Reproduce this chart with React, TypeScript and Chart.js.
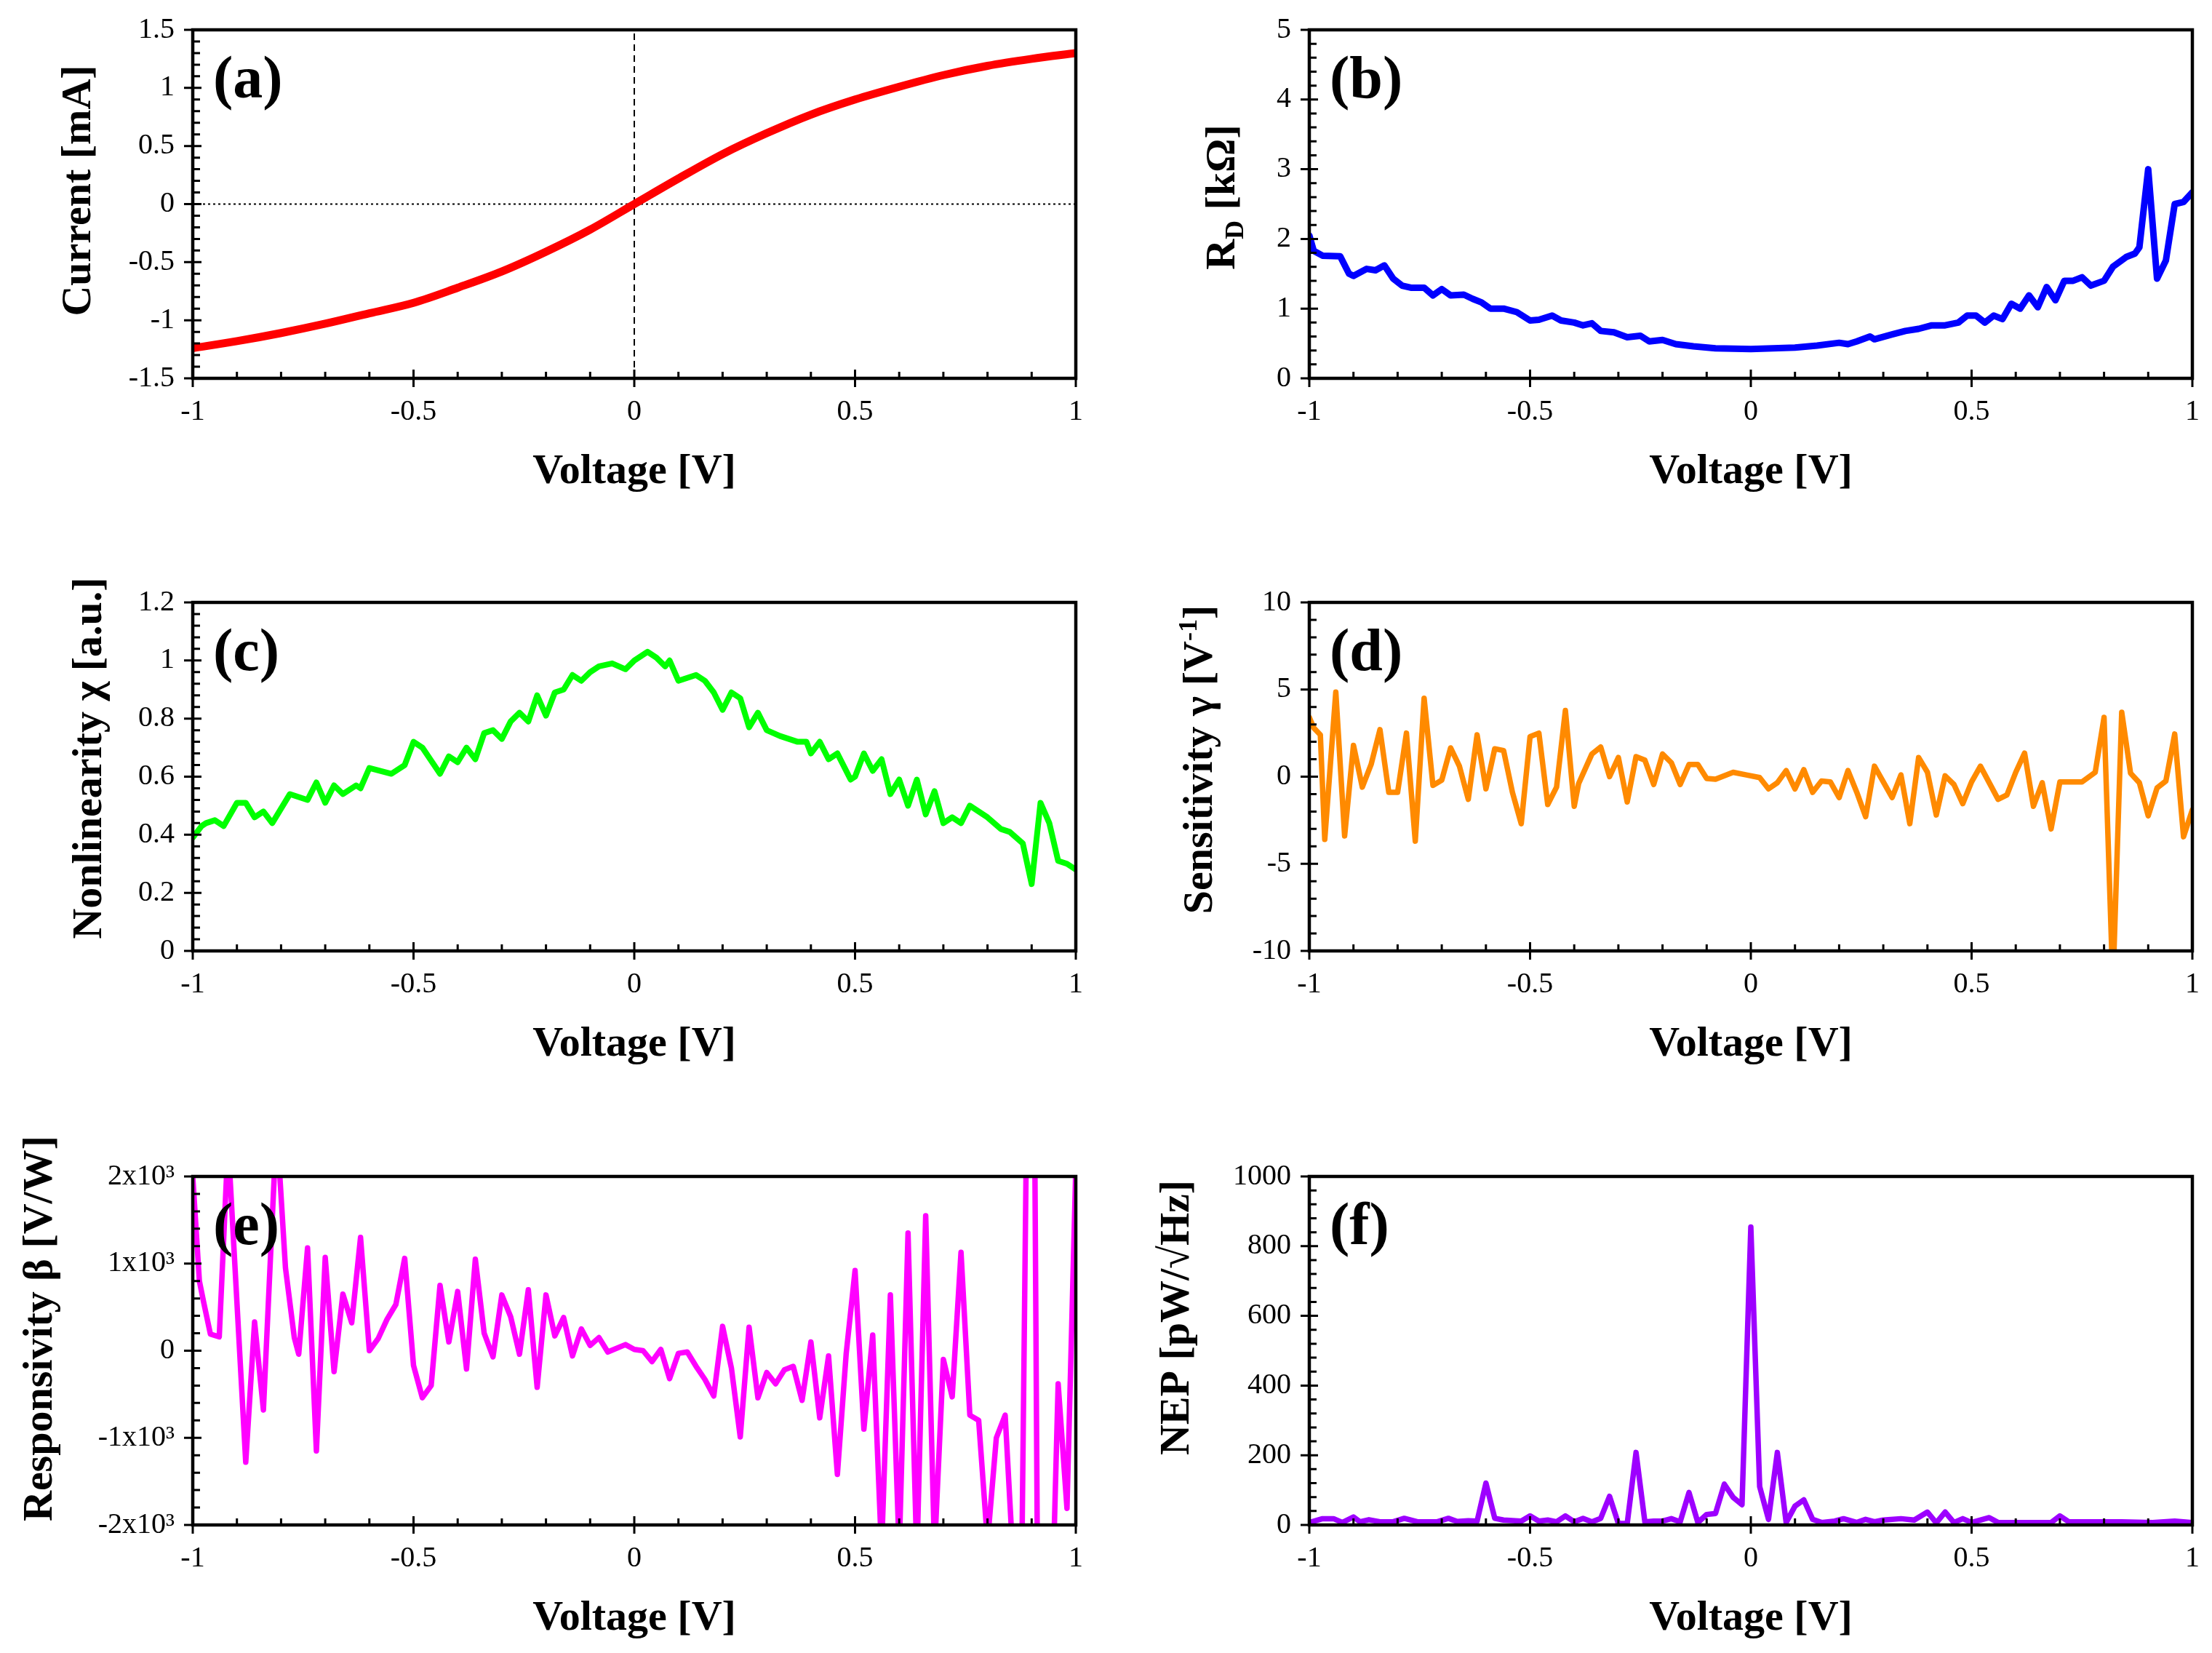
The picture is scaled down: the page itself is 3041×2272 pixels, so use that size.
import React, { useEffect, useRef } from "react";
import { Chart, registerables, ChartConfiguration } from "chart.js";

Chart.register(...registerables);

const SERIF = "'Liberation Serif', 'Times New Roman', serif";

// (a) current vs voltage
const voltsA = [-1, -0.9, -0.8, -0.7, -0.6, -0.5, -0.4, -0.3, -0.2, -0.1, 0, 0.1, 0.2, 0.3, 0.4, 0.5, 0.6, 0.7, 0.8, 0.9, 1];
const currentA = [-1.24, -1.18, -1.11, -1.03, -0.94, -0.85, -0.72, -0.58, -0.41, -0.22, 0, 0.22, 0.43, 0.61, 0.77, 0.9, 1.01, 1.11, 1.19, 1.25, 1.3];

// (b) differential resistance
const voltsB = [
  -1, -0.99, -0.97, -0.93, -0.91, -0.9, -0.87, -0.85, -0.83, -0.81, -0.79, -0.77, -0.74, -0.72, -0.7, -0.68,
  -0.65, -0.63, -0.61, -0.59, -0.56, -0.53, -0.5, -0.48, -0.45, -0.43, -0.4, -0.38, -0.36, -0.34, -0.31, -0.28,
  -0.25, -0.23, -0.2, -0.17, -0.13, -0.08, 0, 0.05, 0.1, 0.15, 0.2, 0.22, 0.24, 0.27, 0.28, 0.32, 0.35, 0.38,
  0.41, 0.44, 0.47, 0.49, 0.51, 0.53, 0.55, 0.57, 0.59, 0.61, 0.63, 0.65, 0.67, 0.69, 0.71, 0.73, 0.75, 0.77,
  0.8, 0.82, 0.85, 0.87, 0.88, 0.9, 0.92, 0.94, 0.96, 0.98, 1,
];
const rdB = [
  2.05, 1.83, 1.76, 1.75, 1.5, 1.47, 1.57, 1.55, 1.62, 1.43, 1.33, 1.3, 1.3, 1.19, 1.28, 1.19,
  1.2, 1.14, 1.09, 1.0, 1.0, 0.95, 0.83, 0.84, 0.9, 0.83, 0.8, 0.76, 0.79, 0.68, 0.66, 0.59,
  0.61, 0.53, 0.55, 0.49, 0.46, 0.43, 0.42, 0.43, 0.44, 0.47, 0.51, 0.49, 0.53, 0.6, 0.56, 0.63, 0.68, 0.71,
  0.76, 0.76, 0.8, 0.9, 0.9, 0.8, 0.9, 0.85, 1.07, 1.0, 1.19, 1.02, 1.31, 1.12, 1.4, 1.4, 1.45, 1.33,
  1.4, 1.6, 1.74, 1.79, 1.88, 3.0, 1.43, 1.69, 2.5, 2.53, 2.67,
];

// (c) nonlinearity
const voltsC = [
  -1, -0.98, -0.97, -0.95, -0.93, -0.9, -0.88, -0.86, -0.84, -0.82, -0.8, -0.78, -0.74, -0.72, -0.7, -0.68,
  -0.66, -0.63, -0.62, -0.6, -0.55, -0.52, -0.5, -0.48, -0.44, -0.42, -0.4, -0.38, -0.36, -0.34, -0.32, -0.3,
  -0.28, -0.26, -0.24, -0.22, -0.2, -0.18, -0.16, -0.14, -0.12, -0.1, -0.08, -0.05, -0.02, 0, 0.03, 0.05,
  0.07, 0.08, 0.1, 0.14, 0.16, 0.18, 0.2, 0.22, 0.24, 0.26, 0.28, 0.3, 0.33, 0.37, 0.39, 0.4, 0.42, 0.44,
  0.46, 0.49, 0.5, 0.52, 0.54, 0.56, 0.58, 0.6, 0.62, 0.64, 0.66, 0.68, 0.7, 0.72, 0.74, 0.76, 0.8, 0.83,
  0.85, 0.88, 0.9, 0.92, 0.94, 0.96, 0.98, 1,
];
const chiC = [
  0.39, 0.43, 0.44, 0.45, 0.43, 0.51, 0.51, 0.46, 0.48, 0.44, 0.49, 0.54, 0.52, 0.58, 0.51, 0.57,
  0.54, 0.57, 0.56, 0.63, 0.61, 0.64, 0.72, 0.7, 0.61, 0.67, 0.65, 0.7, 0.66, 0.75, 0.76, 0.73,
  0.79, 0.82, 0.79, 0.88, 0.81, 0.89, 0.9, 0.95, 0.93, 0.96, 0.98, 0.99, 0.97, 1.0, 1.03, 1.01,
  0.98, 1.0, 0.93, 0.95, 0.93, 0.89, 0.83, 0.89, 0.87, 0.77, 0.82, 0.76, 0.74, 0.72, 0.72, 0.68, 0.72, 0.66,
  0.68, 0.59, 0.6, 0.68, 0.62, 0.66, 0.54, 0.59, 0.5, 0.59, 0.47, 0.55, 0.44, 0.46, 0.44, 0.5, 0.46, 0.42,
  0.41, 0.37, 0.23, 0.51, 0.44, 0.31, 0.3, 0.28,
];

// (d) sensitivity
const voltsD = [
  -1, -0.99, -0.975, -0.965, -0.94, -0.92, -0.9, -0.88, -0.86, -0.84, -0.82, -0.8, -0.78, -0.76, -0.74, -0.72,
  -0.7, -0.68, -0.66, -0.64, -0.62, -0.6, -0.58, -0.56, -0.54, -0.52, -0.5, -0.48, -0.46, -0.44, -0.42, -0.4,
  -0.39, -0.36, -0.34, -0.32, -0.3, -0.28, -0.26, -0.24, -0.22, -0.2, -0.18, -0.16, -0.14, -0.12, -0.1, -0.08,
  -0.04, -0.01, 0.02, 0.04, 0.06, 0.08, 0.1, 0.12, 0.14, 0.16, 0.18, 0.2, 0.22, 0.24, 0.26, 0.28, 0.3, 0.32,
  0.34, 0.36, 0.38, 0.4, 0.42, 0.44, 0.46, 0.48, 0.5, 0.52, 0.54, 0.56, 0.58, 0.6, 0.62, 0.64, 0.66, 0.68,
  0.7, 0.72, 0.75, 0.78, 0.8, 0.82, 0.84, 0.86, 0.88, 0.9, 0.92, 0.94, 0.96, 0.98, 1,
];
const gammaD = [
  3.4, 2.8, 2.4, -3.6, 4.85, -3.4, 1.8, -0.6, 0.7, 2.7, -0.9, -0.9, 2.5, -3.7, 4.5, -0.5,
  -0.2, 1.65, 0.6, -1.3, 2.4, -0.7, 1.6, 1.5, -0.9, -2.7, 2.3, 2.5, -1.6, -0.6, 3.8, -1.7,
  -0.4, 1.3, 1.7, 0.0, 1.1, -1.45, 1.15, 0.95, -0.45, 1.3, 0.8, -0.45, 0.7, 0.7, -0.1, -0.15,
  0.25, 0.1, -0.05, -0.7, -0.35, 0.35, -0.7, 0.4, -0.9, -0.25, -0.3, -1.2, 0.35, -0.9, -2.3, 0.6, -0.3, -1.2,
  0.1, -2.7, 1.1, 0.25, -2.2, 0.05, -0.45, -1.55, -0.3, 0.6, -0.35, -1.3, -1.05, 0.25, 1.35, -1.7, -0.35, -3.0,
  -0.3, -0.3, -0.3, 0.25, 3.4, -12, 3.7, 0.2, -0.35, -2.25, -0.65, -0.25, 2.45, -3.45, -1.9,
];

// (e) responsivity
const voltsE = [
  -1, -0.985, -0.975, -0.96, -0.94, -0.92, -0.88, -0.86, -0.84, -0.81, -0.79, -0.77, -0.76, -0.74, -0.72, -0.7,
  -0.68, -0.66, -0.64, -0.62, -0.6, -0.58, -0.56, -0.54, -0.52, -0.5, -0.48, -0.46, -0.44, -0.42, -0.4, -0.38,
  -0.36, -0.34, -0.32, -0.3, -0.28, -0.26, -0.24, -0.22, -0.2, -0.18, -0.16, -0.14, -0.12, -0.1, -0.08, -0.06,
  -0.02, 0, 0.02, 0.04, 0.06, 0.08, 0.1, 0.12, 0.14, 0.16, 0.18, 0.2, 0.22, 0.24, 0.26, 0.28, 0.3, 0.32,
  0.34, 0.36, 0.38, 0.4, 0.42, 0.44, 0.46, 0.48, 0.5, 0.52, 0.54, 0.56, 0.58, 0.6, 0.62, 0.64, 0.66, 0.68,
  0.7, 0.72, 0.74, 0.76, 0.78, 0.8, 0.82, 0.84, 0.86, 0.87, 0.9, 0.92, 0.96, 0.98, 1,
];
const betaE = [
  2000, 800, 550, 190, 160, 2400, -1280, 330, -680, 2600, 950, 150, -40, 1180, -1150, 1070,
  -240, 650, 320, 1300, 0, 140, 360, 530, 1060, -170, -540, -400, 750, 100, 680, -210,
  1050, 200, -70, 640, 390, -40, 700, -420, 640, 170, 380, -60, 250, 60, 150, -15,
  70, 15, 0, -125, 15, -320, -30, -15, -180, -330, -520, 280, -200, -990, 270, -540, -250, -380,
  -220, -180, -570, 100, -770, -60, -1420, -30, 920, -900, 180, -2300, 640, -2300, 1350, -2400, 1550, -2300,
  -100, -530, 1130, -740, -800, -2200, -1000, -740, -2600, -6000, 8000, -8000, -380, -1810, 2100,
];

// (f) noise equivalent power
const voltsF = [
  -1, -0.97, -0.945, -0.925, -0.9, -0.885, -0.865, -0.84, -0.81, -0.785, -0.755, -0.71, -0.685, -0.665, -0.64, -0.62,
  -0.6, -0.58, -0.56, -0.52, -0.5, -0.48, -0.46, -0.44, -0.42, -0.4, -0.38, -0.36, -0.34, -0.32, -0.3, -0.28,
  -0.26, -0.24, -0.22, -0.2, -0.18, -0.16, -0.14, -0.12, -0.1, -0.08, -0.06, -0.04, -0.02, 0, 0.02, 0.04,
  0.06, 0.08, 0.1, 0.12, 0.14, 0.16, 0.19, 0.21, 0.24, 0.26, 0.28, 0.3, 0.34, 0.37, 0.4, 0.42, 0.44, 0.46,
  0.48, 0.5, 0.54, 0.56, 0.62, 0.68, 0.7, 0.72, 0.77, 0.84, 0.91, 0.96, 1,
];
const nepF = [
  7, 18, 18, 7, 23, 9, 15, 9, 9, 19, 9, 9, 19, 10, 12, 11,
  120, 19, 14, 11, 26, 11, 14, 9, 26, 9, 19, 9, 19, 82, 4, 4,
  208, 9, 11, 11, 18, 9, 93, 7, 30, 33, 117, 79, 58, 855, 110, 16,
  208, 7, 54, 72, 16, 7, 11, 18, 7, 16, 9, 14, 18, 14, 37, 6, 37, 7,
  18, 7, 21, 7, 7, 7, 26, 9, 9, 9, 7, 11, 7,
];

// page geometry (plot frame positions in the 3041x2272 picture)
const PLOT_LEFT = [265, 1800];
const PLOT_TOP = [41, 828, 1617];
const PLOT_H = 479;
const AXIS_W = 265;
const PAD_TOP = 90;
const PAD_RIGHT = 27;
const AXIS_H = 170;
const CANVAS_W = 1506;
const CANVAS_H = PAD_TOP + PLOT_H + AXIS_H;

type Seg = { t: string; s?: "sub" | "sup" };

interface PanelSpec {
  tag: string;
  color: string;
  lineWidth: number;
  volts: number[];
  vals: number[];
  yMin: number;
  yMax: number;
  yMajor: number;
  yMinor: number;
  yFmt: (v: number) => string;
  title: Seg[];
  titleDx: number;
  titleDy: number;
  col: number;
  row: number;
  smooth?: boolean;
  zeroLines?: boolean;
}

const plain = (v: number) => String(parseFloat(Number(v).toFixed(3)));
const kilo = (v: number) => (v === 0 ? "0" : `${Math.round(v / 1000)}x10\u00b3`);

const PANELS: PanelSpec[] = [
  {
    tag: "(a)", color: "#ff0000", lineWidth: 11, volts: voltsA, vals: currentA,
    yMin: -1.5, yMax: 1.5, yMajor: 0.5, yMinor: 0.1, yFmt: plain,
    title: [{ t: "Current [mA]" }], titleDx: -160, titleDy: 221,
    col: 0, row: 0, smooth: true, zeroLines: true,
  },
  {
    tag: "(b)", color: "#0000ff", lineWidth: 9, volts: voltsB, vals: rdB,
    yMin: 0, yMax: 5, yMajor: 1, yMinor: 0.2, yFmt: plain,
    title: [{ t: "R" }, { t: "D", s: "sub" }, { t: " [k\u03a9]" }], titleDx: -122, titleDy: 230,
    col: 1, row: 0,
  },
  {
    tag: "(c)", color: "#00ff00", lineWidth: 8, volts: voltsC, vals: chiC,
    yMin: 0, yMax: 1.2, yMajor: 0.2, yMinor: 0.04, yFmt: plain,
    title: [{ t: "Nonlinearity \u03c7 [a.u.]" }], titleDx: -145, titleDy: 214,
    col: 0, row: 1,
  },
  {
    tag: "(d)", color: "#ff8a00", lineWidth: 7.5, volts: voltsD, vals: gammaD,
    yMin: -10, yMax: 10, yMajor: 5, yMinor: 1, yFmt: plain,
    title: [{ t: "Sensitivity \u03b3 [V" }, { t: "-1", s: "sup" }, { t: "]" }], titleDx: -153, titleDy: 216,
    col: 1, row: 1,
  },
  {
    tag: "(e)", color: "#ff00ff", lineWidth: 7.5, volts: voltsE, vals: betaE,
    yMin: -2000, yMax: 2000, yMajor: 1000, yMinor: 200, yFmt: kilo,
    title: [{ t: "Responsivity \u03b2 [V/W]" }], titleDx: -213, titleDy: 209,
    col: 0, row: 2,
  },
  {
    tag: "(f)", color: "#9d00ff", lineWidth: 7.5, volts: voltsF, vals: nepF,
    yMin: 0, yMax: 1000, yMajor: 200, yMinor: 40, yFmt: plain,
    title: [{ t: "NEP [pW/\u221aHz]" }], titleDx: -185, titleDy: 194,
    col: 1, row: 2,
  },
];

function isMajor(v: number, step: number) {
  const r = v / step;
  return Math.abs(r - Math.round(r)) < 1e-6;
}

function drawYTitle(ctx: CanvasRenderingContext2D, segs: Seg[], cx: number, cy: number) {
  const size = 58;
  const fonts = segs.map((s) => `bold ${s.s ? Math.round(size * 0.62) : size}px ${SERIF}`);
  const widths = segs.map((s, i) => {
    ctx.font = fonts[i];
    return ctx.measureText(s.t).width;
  });
  const total = widths.reduce((a, b) => a + b, 0);
  ctx.save();
  ctx.translate(cx, cy);
  ctx.rotate(-Math.PI / 2);
  ctx.textAlign = "left";
  ctx.textBaseline = "alphabetic";
  let x = -total / 2;
  const base = size * 0.33;
  segs.forEach((s, i) => {
    ctx.font = fonts[i];
    const dy = s.s === "sub" ? size * 0.2 : s.s === "sup" ? -size * 0.36 : 0;
    ctx.fillText(s.t, x, base + dy);
    x += widths[i];
  });
  ctx.restore();
}

function framePlugin(spec: PanelSpec) {
  return {
    id: "frame" + spec.tag,
    afterDatasetsDraw(chart: Chart) {
      const { ctx, chartArea: a } = chart;
      const xs = chart.scales.x;
      const ys = chart.scales.y;
      ctx.save();
      ctx.strokeStyle = "#000";
      ctx.fillStyle = "#000";
      ctx.lineWidth = 4.5;
      ctx.strokeRect(a.left, a.top, a.right - a.left, a.bottom - a.top);

      ctx.lineWidth = 3;
      ctx.beginPath();
      const nx = Math.round((xs.max - xs.min) / 0.1);
      for (let i = 0; i <= nx; i++) {
        const v = xs.min + i * 0.1;
        const major = isMajor(v, 0.5);
        const px = xs.getPixelForValue(v);
        ctx.moveTo(px, a.bottom + (major ? 12 : 0));
        ctx.lineTo(px, a.bottom - (major ? 12 : 9));
      }
      const ny = Math.round((spec.yMax - spec.yMin) / spec.yMinor);
      for (let i = 0; i <= ny; i++) {
        const v = spec.yMin + i * spec.yMinor;
        const major = isMajor(v, spec.yMajor);
        const py = ys.getPixelForValue(v);
        ctx.moveTo(a.left - (major ? 12 : 0), py);
        ctx.lineTo(a.left + (major ? 12 : 10), py);
      }
      ctx.stroke();

      ctx.textAlign = "left";
      ctx.textBaseline = "alphabetic";
      ctx.font = `bold 82px ${SERIF}`;
      ctx.fillText(spec.tag, a.left + 28, a.top + 93);

      ctx.textAlign = "center";
      ctx.font = `bold 58px ${SERIF}`;
      ctx.fillText("Voltage [V]", (a.left + a.right) / 2, a.bottom + 144);

      drawYTitle(ctx, spec.title, a.left + spec.titleDx, a.top + spec.titleDy);
      ctx.restore();
    },
  };
}

function Panel({ spec }: { spec: PanelSpec }) {
  const chartRef = useRef<HTMLCanvasElement | null>(null);

  useEffect(() => {
    if (!chartRef.current) return;

    const datasets: any[] = [
      {
        data: spec.volts.map((v, i) => ({ x: v, y: spec.vals[i] })),
        borderColor: spec.color,
        borderWidth: spec.lineWidth,
        pointRadius: 0,
        borderJoinStyle: "round",
        borderCapStyle: "round",
        tension: spec.smooth ? 0.4 : 0,
        cubicInterpolationMode: spec.smooth ? "monotone" : "default",
        clip: 0,
      },
    ];
    if (spec.zeroLines) {
      datasets.push(
        {
          data: [{ x: 0, y: spec.yMin }, { x: 0, y: spec.yMax }],
          borderColor: "#000",
          borderWidth: 2,
          borderDash: [9, 6],
          pointRadius: 0,
          clip: 0,
        },
        {
          data: [{ x: -1, y: 0 }, { x: 1, y: 0 }],
          borderColor: "#000",
          borderWidth: 2,
          borderDash: [3, 4],
          pointRadius: 0,
          clip: 0,
        }
      );
    }

    const tickFont = { family: SERIF, size: 40 };
    const config: ChartConfiguration<"line"> = {
      type: "line",
      data: { datasets },
      options: {
        animation: false,
        responsive: false,
        layout: {
          autoPadding: false,
          padding: { top: PAD_TOP, right: PAD_RIGHT, left: 0, bottom: 0 },
        },
        plugins: {
          legend: { display: false },
          tooltip: { enabled: false },
        },
        scales: {
          x: {
            type: "linear",
            min: -1,
            max: 1,
            grid: { display: false, drawTicks: false },
            border: { display: false },
            ticks: {
              stepSize: 0.5,
              font: tickFont,
              color: "#000",
              padding: 22,
              maxRotation: 0,
              autoSkip: false,
              callback: (v) => plain(Number(v)),
            },
            afterFit: (s: any) => {
              s.height = AXIS_H;
              s.paddingLeft = 0;
              s.paddingRight = 0;
            },
          },
          y: {
            type: "linear",
            min: spec.yMin,
            max: spec.yMax,
            grid: { display: false, drawTicks: false },
            border: { display: false },
            ticks: {
              stepSize: spec.yMajor,
              font: tickFont,
              color: "#000",
              padding: 25,
              autoSkip: false,
              callback: (v) => spec.yFmt(Number(v)),
            },
            afterFit: (s: any) => {
              s.width = AXIS_W;
              s.paddingTop = 0;
              s.paddingBottom = 0;
            },
          },
        },
      },
      plugins: [framePlugin(spec)],
    };

    const chart = new Chart(chartRef.current, config);
    return () => {
      chart.destroy();
    };
  }, [spec]);

  const left = PLOT_LEFT[spec.col] - AXIS_W;
  const top = PLOT_TOP[spec.row] - PAD_TOP;
  return (
    <canvas
      ref={chartRef}
      width={CANVAS_W}
      height={CANVAS_H}
      style={{ position: "absolute", left, top, width: CANVAS_W, height: CANVAS_H }}
    />
  );
}

export default function App() {
  return (
    <div
      style={{
        position: "fixed",
        left: 0,
        top: 0,
        width: 3041,
        height: 2272,
        background: "#fff",
        overflow: "hidden",
      }}
    >
      {PANELS.map((p) => (
        <Panel key={p.tag} spec={p} />
      ))}
    </div>
  );
}
